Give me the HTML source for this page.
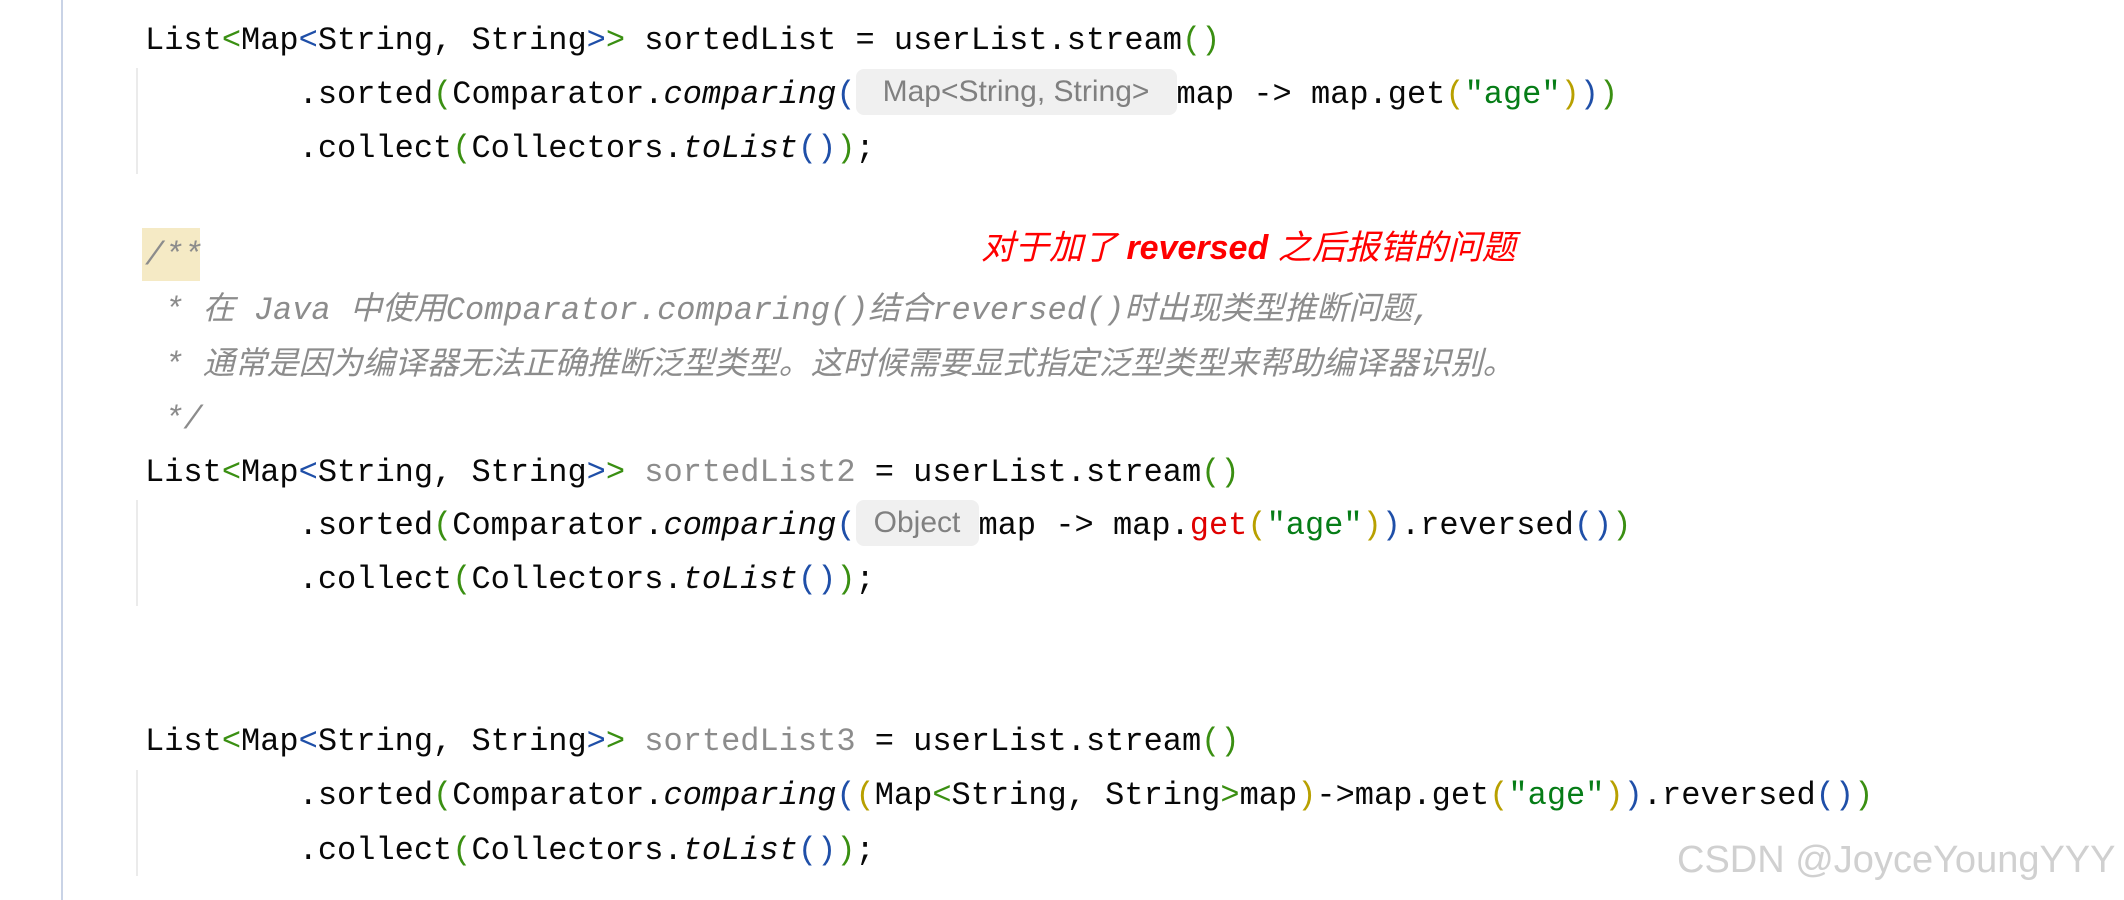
<!DOCTYPE html>
<html><head><meta charset="utf-8"><style>
html,body{margin:0;padding:0;background:#fff;width:2124px;height:900px;overflow:hidden;position:relative}
.l{position:absolute;left:145px;white-space:pre;font-family:"Liberation Mono","Noto Sans CJK SC",monospace;font-size:32px;line-height:54px;height:54px;color:#080808}
.g{color:#3a8f12}.b{color:#1f4fa8}.y{color:#b8a000}.s{color:#067d17}.r{color:#e00000}.gr{color:#8c8c8c}
i{font-style:italic}
.c{color:#8c8c8c;font-style:italic}
.h{display:inline-block;background:#f0f0f0;border-radius:8px;color:#808080;font-family:"Liberation Sans",sans-serif;font-size:30px;line-height:46px;height:46px;vertical-align:middle;text-align:center;position:relative;top:-3px;font-style:normal}
.guide{position:absolute;left:136px;width:2px;background:#ebebeb}
</style></head><body>
<div style="position:absolute;left:61px;top:0;width:2px;height:900px;background:#c9d3e6"></div>
<div class="guide" style="top:68px;height:106px"></div>
<div class="guide" style="top:500px;height:106px"></div>
<div class="guide" style="top:770px;height:106px"></div>
<div style="position:absolute;left:142px;top:228px;width:58px;height:53px;background:#f5eac5"></div>

<div class="l" style="top:14px">List<span class="g">&lt;</span>Map<span class="b">&lt;</span>String, String<span class="b">&gt;</span><span class="g">&gt;</span> sortedList = userList.stream<span class="g">()</span></div>
<div class="l" style="top:68px">        .sorted<span class="g">(</span>Comparator.<i>comparing</i><span class="b">(</span><span class="h" style="width:321px">Map&lt;String, String&gt;</span>map -&gt; map.get<span class="y">(</span><span class="s">"age"</span><span class="y">)</span><span class="b">)</span><span class="g">)</span></div>
<div class="l" style="top:122px">        .collect<span class="g">(</span>Collectors.<i>toList</i><span class="b">()</span><span class="g">)</span>;</div>

<div class="l c" style="top:229px">/**</div>
<div style="position:absolute;left:981px;top:225px;white-space:pre;color:#f00;font-style:italic;font-family:'Liberation Sans','Noto Sans CJK SC',sans-serif;font-size:34px;line-height:46px">对于加了 <b>reversed</b> 之后报错的问题</div>
<div class="l c" style="top:284px"> * 在 Java 中使用Comparator.comparing()结合reversed()时出现类型推断问题,</div>
<div class="l c" style="top:339px"> * 通常是因为编译器无法正确推断泛型类型。这时候需要显式指定泛型类型来帮助编译器识别。</div>
<div class="l c" style="top:393px"> */</div>

<div class="l" style="top:446px">List<span class="g">&lt;</span>Map<span class="b">&lt;</span>String, String<span class="b">&gt;</span><span class="g">&gt;</span> <span class="gr">sortedList2</span> = userList.stream<span class="g">()</span></div>
<div class="l" style="top:499px">        .sorted<span class="g">(</span>Comparator.<i>comparing</i><span class="b">(</span><span class="h" style="width:123px">Object</span>map -&gt; map.<span class="r">get</span><span class="y">(</span><span class="s">"age"</span><span class="y">)</span><span class="b">)</span>.reversed<span class="b">()</span><span class="g">)</span></div>
<div class="l" style="top:553px">        .collect<span class="g">(</span>Collectors.<i>toList</i><span class="b">()</span><span class="g">)</span>;</div>

<div class="l" style="top:715px">List<span class="g">&lt;</span>Map<span class="b">&lt;</span>String, String<span class="b">&gt;</span><span class="g">&gt;</span> <span class="gr">sortedList3</span> = userList.stream<span class="g">()</span></div>
<div class="l" style="top:769px">        .sorted<span class="g">(</span>Comparator.<i>comparing</i><span class="b">(</span><span class="y">(</span>Map<span class="g">&lt;</span>String, String<span class="g">&gt;</span>map<span class="y">)</span>-&gt;map.get<span class="y">(</span><span class="s">"age"</span><span class="y">)</span><span class="b">)</span>.reversed<span class="b">()</span><span class="g">)</span></div>
<div class="l" style="top:824px">        .collect<span class="g">(</span>Collectors.<i>toList</i><span class="b">()</span><span class="g">)</span>;</div>

<div style="position:absolute;left:1677px;top:836px;white-space:pre;color:#d0d0d0;font-family:'Liberation Sans',sans-serif;font-size:38px;line-height:48px">CSDN @JoyceYoungYYY</div>
</body></html>
